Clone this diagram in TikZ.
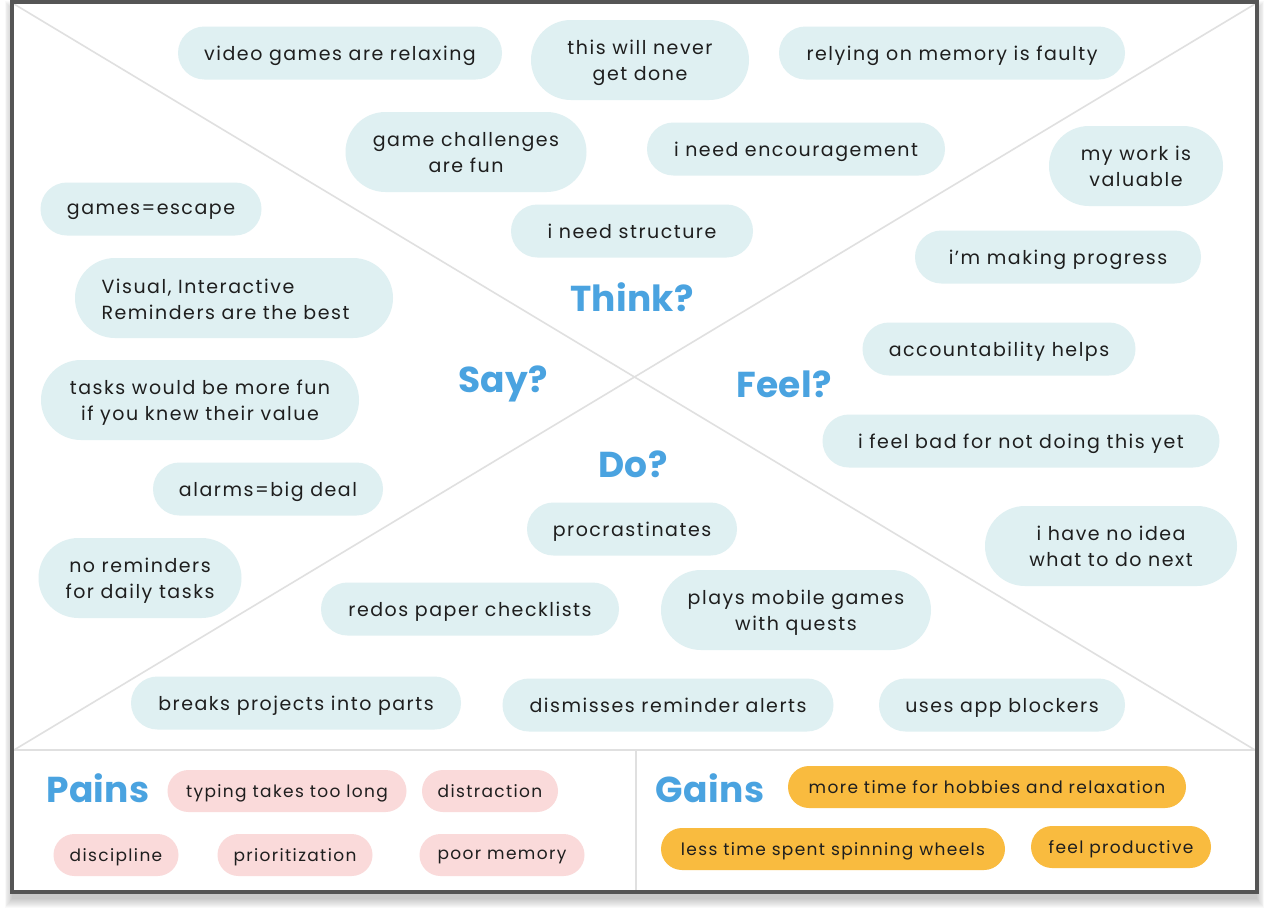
\documentclass[tikz,border=0pt]{standalone}
\usepackage{fontspec}
\setmainfont[LetterSpace=8]{Poppins}
\newfontfamily\headfont[LetterSpace=1]{Poppins}
\usetikzlibrary{shapes.misc}
\definecolor{pillblue}{HTML}{DFF0F2}
\definecolor{pillpink}{HTML}{FADADA}
\definecolor{pillorange}{HTML}{F9BB3F}
\definecolor{headblue}{HTML}{4AA3E0}
\definecolor{framegray}{HTML}{555555}
\definecolor{linegray}{HTML}{E0E0E0}
\definecolor{txt}{HTML}{1E1E1E}
\tikzset{
  pill/.style={rounded rectangle, fill=pillblue, inner xsep=0pt, inner ysep=0pt,
    minimum height=53, text=txt, align=center, text depth=0pt,
    font=\fontsize{19}{26}\selectfont},
  pilltwo/.style={pill, minimum height=80},
  painpill/.style={rounded rectangle, fill=pillpink, inner xsep=0pt, inner ysep=0pt,
    minimum height=42, text=txt, text depth=0pt, font=\fontsize{17}{22}\selectfont},
  gainpill/.style={painpill, fill=pillorange},
  header/.style={text=headblue, font=\headfont\fontsize{36}{40}\selectfont\bfseries, inner sep=0pt},
  divider/.style={draw=linegray, line width=1.6pt}
}
\begin{document}
\begin{tikzpicture}[x=1pt,y=-1pt]
\useasboundingbox (0,0) rectangle (1269,918);
% shadow
\foreach \k in {0,...,9}{
  \fill[black, opacity=0.022] (12-\k*0.8,2+8-\k) rectangle (1257+\k*0.8,892+7+\k);
}
% frame
\fill[white] (12,2) rectangle (1257,892);
% diagonals and dividers
\coordinate (tl) at (14,4);
\coordinate (tr) at (1255,4);
\coordinate (bl) at (14,750);
\coordinate (br) at (1255,750);
\coordinate (mb) at (636,750);
\coordinate (mbot) at (636,890);
\draw[divider] (tl) -- (br);
\draw[divider] (tr) -- (bl);
\draw[divider] (bl) -- (br);
\draw[divider] (mb) -- (mbot);
\draw[draw=framegray, line width=3.5pt] (12,2) rectangle (1257,892);

% headers
\node[header] (think) at (632,297) {Think?};
\node[header] (say) at (503,384) {Say?};
\node[header] (feel) at (784,384) {Feel?};
\node[header] (do) at (633,464) {Do?};

% Think
\node[pill, minimum width=324] (t1) at (340,53) {video games are relaxing};
\node[pilltwo, minimum width=218] (t2) at (640,60) {this will never\\get done};
\node[pill, minimum width=346] (t3) at (952,53) {relying on memory is faulty};
\node[pilltwo, minimum width=241] (t4) at (466,152) {game challenges\\are fun};
\node[pill, minimum width=298] (t5) at (796,149) {i need encouragement};
\node[pill, minimum width=242] (t6) at (632,231) {i need structure};

% Feel
\node[pilltwo, minimum width=174] (f1) at (1136,166) {my work is\\valuable};
\node[pill, minimum width=286] (f2) at (1058,257) {i’m making progress};
\node[pill, minimum width=273] (f3) at (999,349) {accountability helps};
\node[pill, minimum width=397] (f4) at (1021,441) {i feel bad for not doing this yet};
\node[pilltwo, minimum width=252] (f5) at (1111,546) {i have no idea\\what to do next};

% Say
\node[pill, minimum width=221] (s1) at (151,209) {games=escape};
\node[pilltwo, minimum width=318] (s2) at (234,298) {\raisebox{2pt}{\begin{tabular}[b]{@{}l@{\hspace{17pt}}}Visual, Interactive\\Reminders are the best\end{tabular}}};
\node[pilltwo, minimum width=318] (s3) at (200,400) {tasks would be more fun\\if you knew their value};
\node[pill, minimum width=230] (s4) at (268,489) {alarms=big deal};
\node[pilltwo, minimum width=203] (s5) at (140,578) {no reminders\\for daily tasks};

% Do
\node[pill, minimum width=210] (d1) at (632,529) {procrastinates};
\node[pill, minimum width=298] (d2) at (470,609) {redos paper checklists};
\node[pilltwo, minimum width=270] (d3) at (796,610) {plays mobile games\\with quests};
\node[pill, minimum width=330] (d4) at (296,703) {breaks projects into parts};
\node[pill, minimum width=331] (d5) at (668,705) {dismisses reminder alerts};
\node[pill, minimum width=246] (d6) at (1002,705) {uses app blockers};

% Pains
\node[header] (pains) at (98,788) {Pains};
\node[painpill, minimum width=239] (p1) at (287,791) {typing takes too long};
\node[painpill, minimum width=136] (p2) at (490,791) {distraction};
\node[painpill, minimum width=125] (p3) at (116,855) {discipline};
\node[painpill, minimum width=155] (p4) at (295,855) {prioritization};
\node[painpill, minimum width=165] (p5) at (502,855) {poor memory};

% Gains
\node[header] (gains) at (710,788) {Gains};
\node[gainpill, minimum width=398] (g1) at (987,787) {more time for hobbies and relaxation};
\node[gainpill, minimum width=344] (g2) at (833,849) {less time spent spinning wheels};
\node[gainpill, minimum width=180] (g3) at (1121,847) {feel productive};
\end{tikzpicture}
\end{document}
